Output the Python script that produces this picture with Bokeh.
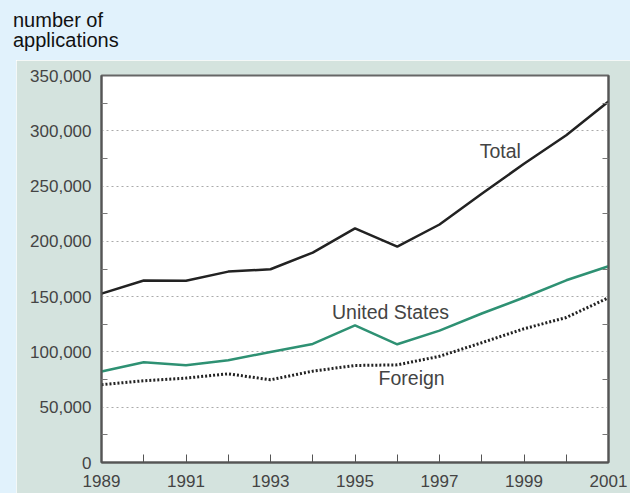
from bokeh.plotting import figure
from bokeh.layouts import column, row
from bokeh.models import Div, Range1d, FixedTicker, LinearAxis, NumeralTickFormatter
from bokeh.core.properties import value
from bokeh.embed import file_html
from bokeh.resources import INLINE

years = list(range(1989, 2002))
total = [152750, 164558, 164306, 172650, 174743, 189857, 211700, 195187, 215257, 243062, 270187, 295926, 326508]
united_states = [82370, 90643, 87955, 92425, 99955, 107233, 123962, 106892, 119214, 134733, 149251, 164795, 177511]
foreign = [70380, 73915, 76351, 80225, 74788, 82624, 87738, 88295, 96043, 108329, 120936, 131131, 148997]
y_ticks = [0, 50000, 100000, 150000, 200000, 250000, 300000, 350000]
y_minor = [25000, 75000, 125000, 175000, 225000, 275000, 325000]
x_label_years = [1989, 1991, 1993, 1995, 1997, 1999, 2001]
series_labels = ["Total", "United States", "Foreign"]
label_x = [1998.44, 1995.84, 1996.34]
label_y = [282000, 135700, 76000]

BLUE = "#e1f2fc"
PANEL = "#d4e3de"
FONT = "Liberation Sans"

title = Div(
    text='<div style="padding:10px 0 0 13px; font-family:\'Liberation Sans\'; font-size:20px; line-height:20px; color:#111;">number of<br>applications</div>',
    width=630, height=60, margin=(0, 0, 0, 0),
    styles={"background-color": BLUE},
)
spacer = Div(text="", width=16, height=433, margin=(0, 0, 0, 0),
             styles={"background-color": BLUE})

p = figure(width=614, height=433, output_backend="svg", toolbar_location=None,
           x_range=Range1d(1989, 2001), y_range=Range1d(0, 350000),
           min_border_left=85, min_border_right=22, min_border_top=15, min_border_bottom=31)
p.background_fill_color = "white"
p.border_fill_color = PANEL
p.outline_line_color = "#666666"
p.outline_line_width = 2

# axes
xa = p.xaxis[0]
xa.ticker = FixedTicker(ticks=years)
xa.major_label_overrides = {y: ("" if y not in x_label_years else str(y)) for y in years}
xa.major_tick_in = 8
xa.major_tick_out = 0
xa.minor_tick_line_color = None
xa.major_tick_line_color = "#555555"
xa.major_tick_line_width = 1
xa.axis_line_color = "#555555"
xa.axis_line_width = 2
xa.major_label_text_font = FONT
xa.major_label_text_font_size = "17px"
xa.major_label_text_color = "#444444"
xa.major_label_standoff = 12

ya = p.yaxis[0]
ya.ticker = FixedTicker(ticks=y_ticks, minor_ticks=y_minor)
ya.formatter = NumeralTickFormatter(format="0,0")
ya.major_tick_in = 0
ya.major_tick_out = 0
ya.minor_tick_in = 6
ya.minor_tick_out = 0
ya.minor_tick_line_color = "#777777"
ya.axis_line_color = "#555555"
ya.axis_line_width = 2
ya.major_label_text_font = FONT
ya.major_label_text_font_size = "17px"
ya.major_label_text_color = "#444444"
ya.major_label_standoff = 10

ra = LinearAxis(ticker=FixedTicker(ticks=y_ticks, minor_ticks=y_minor))
ra.major_tick_in = 0
ra.major_tick_out = 0
ra.minor_tick_in = 6
ra.minor_tick_out = 0
ra.minor_tick_line_color = "#777777"
ra.axis_line_color = "#555555"
ra.axis_line_width = 2
ra.major_label_text_font_size = "0px"
ra.major_label_text_color = None
ra.major_label_standoff = 0
p.add_layout(ra, "right")

p.xgrid.grid_line_color = None
p.ygrid.ticker = FixedTicker(ticks=y_ticks)
p.ygrid.grid_line_color = "#aaaaaa"
p.ygrid.grid_line_dash = "2 3"
p.ygrid.grid_line_width = 1

# lines
p.line(years, total, line_color="#222222", line_width=2.5)
p.line(years, united_states, line_color="#2e9173", line_width=2.5)
p.line(years, foreign, line_color="#222222", line_width=3, line_dash="2 2")

p.text(x=label_x, y=label_y, text=series_labels, text_align="center", text_baseline="middle",
       text_font=value(FONT), text_font_size="19.5px", text_color="#444444")

layout = column(title, row(spacer, p, margin=(0, 0, 0, 0), spacing=0), margin=(0, 0, 0, 0), spacing=0)
open("out.html", "w").write(file_html(layout, INLINE))
